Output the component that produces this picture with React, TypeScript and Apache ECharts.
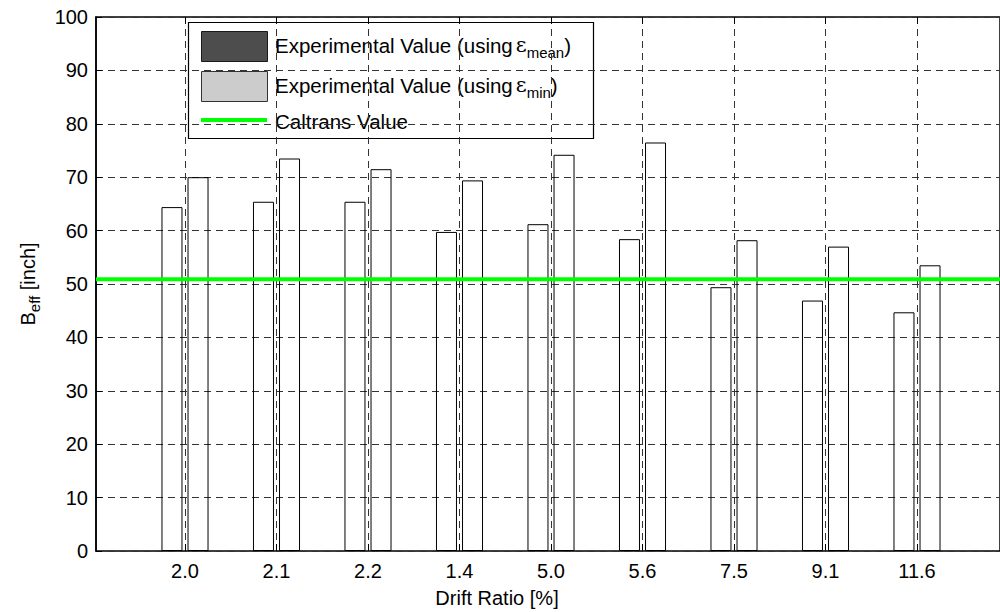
import React, { useEffect, useRef } from "react";
import * as echarts from "echarts";

const categories = ["2.0", "2.1", "2.2", "1.4", "5.0", "5.6", "7.5", "9.1", "11.6"];
const meanValues = [64.4, 65.4, 65.4, 59.75, 61.2, 58.4, 49.4, 46.9, 44.7];
const minValues = [70.0, 73.5, 71.5, 69.4, 74.2, 76.5, 58.2, 57.0, 53.5];
const caltransValue = 50.9;
const yTicks = { min: 0, max: 100, interval: 10 };

const FONT = "Liberation Sans, Arial, sans-serif";

export default function App() {
  const ref = useRef<HTMLDivElement>(null);
  useEffect(() => {
    if (!ref.current) return;
    const chart = echarts.init(ref.current, null, { renderer: "svg" });
    const dash = { color: "#333", width: 1, type: [7, 5] as any };
    const legendRich = {
      a: { fontSize: 20.5, lineHeight: 30, fontFamily: FONT, fill: "#000" },
      e: { fontSize: 21, lineHeight: 30, fontFamily: "DejaVu Serif", fill: "#000", padding: [0, 0, 0, 3] },
      s: { fontSize: 15, lineHeight: 7, verticalAlign: "bottom", fontFamily: FONT, fill: "#000" },
    };
    const option: any = {
      animation: false,
      backgroundColor: "#fff",
      textStyle: { fontFamily: FONT },
      grid: [
        { left: 96, top: 17, width: 912, height: 534, show: true, borderColor: "#000", borderWidth: 1.5, backgroundColor: "transparent" },
        { left: 185, top: 17, width: 732, height: 534 },
      ],
      xAxis: [
        { gridIndex: 0, type: "value", min: 0, max: 1, show: false },
        {
          gridIndex: 1,
          type: "category",
          boundaryGap: false,
          data: categories,
          axisLine: { show: false },
          axisTick: { show: true, inside: true, length: 7, lineStyle: { color: "#000" } },
          axisLabel: { fontSize: 20, color: "#000", margin: 10, fontFamily: FONT },
          splitLine: { show: true, lineStyle: dash },
        },
        {
          gridIndex: 1,
          type: "category",
          position: "top",
          boundaryGap: false,
          data: categories,
          axisLine: { show: false },
          axisTick: { show: true, inside: true, length: 7, lineStyle: { color: "#000" } },
          axisLabel: { show: false },
          splitLine: { show: false },
        },
      ],
      yAxis: [
        {
          gridIndex: 0,
          type: "value",
          min: yTicks.min,
          max: yTicks.max,
          interval: yTicks.interval,
          axisLine: { show: true, lineStyle: { color: "#000", width: 1.5 } },
          axisTick: { show: true, inside: true, length: 6, lineStyle: { color: "#000" } },
          axisLabel: { fontSize: 20, color: "#000", margin: 8, fontFamily: FONT },
          splitLine: { show: true, lineStyle: dash },
          name: "{b|B}{s|eff}{b| [inch]}",
          nameLocation: "middle",
          nameRotate: 90,
          nameGap: 54,
          nameTextStyle: {
            color: "#000",
            rich: {
              b: { fontSize: 20, lineHeight: 28, fontFamily: FONT, color: "#000" },
              s: { fontSize: 15, lineHeight: 8, verticalAlign: "bottom", fontFamily: FONT, color: "#000" },
            },
          },
        },
        { gridIndex: 1, type: "value", min: yTicks.min, max: yTicks.max, show: false },
      ],
      series: [
        {
          name: "Experimental Value (using εmean)",
          type: "bar",
          xAxisIndex: 1,
          yAxisIndex: 1,
          data: meanValues,
          barWidth: 21,
          barGap: "24%",
          clip: false,
          itemStyle: { color: "rgba(255,255,255,0)", borderColor: "#000", borderWidth: 1 },
          z: 3,
        },
        {
          name: "Experimental Value (using εmin)",
          type: "bar",
          xAxisIndex: 1,
          yAxisIndex: 1,
          data: minValues,
          barWidth: 21,
          barGap: "24%",
          clip: false,
          itemStyle: { color: "rgba(255,255,255,0)", borderColor: "#000", borderWidth: 1 },
          z: 3,
        },
        {
          name: "Caltrans Value",
          type: "line",
          xAxisIndex: 0,
          yAxisIndex: 0,
          data: [
            [0, caltransValue],
            [1, caltransValue],
          ],
          symbol: "none",
          lineStyle: { color: "#00ff00", width: 4 },
          z: 5,
        },
      ],
      graphic: [
        {
          type: "group",
          z: 100,
          children: [
            { type: "rect", shape: { x: 188.5, y: 22.5, width: 405, height: 116 }, style: { fill: "#fff", stroke: "#000", lineWidth: 1.2 } },
            { type: "rect", shape: { x: 201.5, y: 31.5, width: 66, height: 30 }, style: { fill: "#4d4d4d", stroke: "#1a1a1a", lineWidth: 1 } },
            { type: "rect", shape: { x: 201.5, y: 71.5, width: 66, height: 30 }, style: { fill: "#cccccc", stroke: "#333", lineWidth: 1 } },
            { type: "line", shape: { x1: 201, y1: 120, x2: 267, y2: 120 }, style: { stroke: "#00ff00", lineWidth: 4 } },
            {
              type: "text",
              x: 275,
              y: 45,
              style: {
                text: "{a|Experimental Value (using}{e|ε}{s|mean}{a|)}",
                verticalAlign: "middle",
                rich: legendRich,
              },
            },
            {
              type: "text",
              x: 275,
              y: 85,
              style: {
                text: "{a|Experimental Value (using}{e|ε}{s|min}{a|)}",
                verticalAlign: "middle",
                rich: legendRich,
              },
            },
            {
              type: "text",
              x: 275,
              y: 121,
              style: { text: "Caltrans Value", fontSize: 20.5, fontFamily: FONT, fill: "#000", verticalAlign: "middle" },
            },
          ],
        },
        {
          type: "text",
          x: 497,
          y: 598,
          style: { text: "Drift Ratio [%]", fontSize: 20, fontFamily: FONT, fill: "#000", align: "center", verticalAlign: "middle" },
        },
      ],
    };
    chart.setOption(option);
    return () => chart.dispose();
  }, []);
  return <div ref={ref} style={{ position: "absolute", left: 0, top: 0, width: 1000, height: 612 }} />;
}
